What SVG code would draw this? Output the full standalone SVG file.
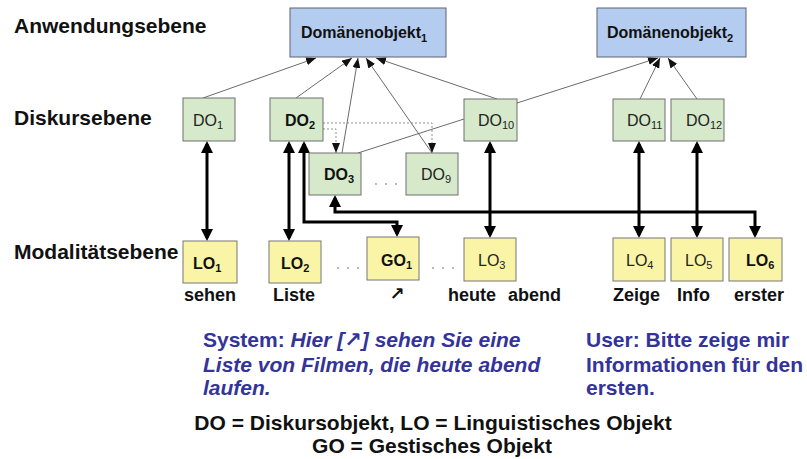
<svg xmlns="http://www.w3.org/2000/svg" width="807" height="459" viewBox="0 0 807 459">
  <style>
    text { font-family: "Liberation Sans", Arial, "DejaVu Sans", sans-serif; fill: #111; }
    .level { font-size: 21px; font-weight: bold; }
    .dom rect { fill: #b4ccef; stroke: #5e6270; stroke-width: 1; }
    .dom text { font-size: 16px; font-weight: bold; }
    .disc rect { fill: #d6e9cb; stroke: #6f6f6f; stroke-width: 1; }
    .mod rect { fill: #faf5a6; stroke: #767676; stroke-width: 1; }
    .node text { font-size: 16px; fill: #222; }
    .node text.b { font-weight: bold; fill: #111; }
    .sub { font-size: 11px; }
    .word { font-size: 18px; font-weight: bold; }
    .thin { fill: none; stroke: #5a5a5a; stroke-width: 0.9; }
    .dash { fill: none; stroke: #8e8e8e; stroke-width: 1; stroke-dasharray: 2 2; }
    .thick { fill: none; stroke: #000; stroke-width: 3; stroke-linejoin: miter; }
    .dots circle { fill: #9a9a9a; }
    .say { font-size: 21px; font-weight: bold; fill: #333399; }
    .say .it { font-style: italic; }
    .legend { font-size: 21px; font-weight: bold; }
  </style>
  <defs>
    <marker id="tip" viewBox="0 0 10 8" refX="10" refY="4" markerWidth="10" markerHeight="8" markerUnits="userSpaceOnUse" orient="auto">
      <path d="M0,0 L10,4 L0,8 z" fill="#111"/>
    </marker>
    <marker id="head" viewBox="0 0 12 12" refX="9" refY="6" markerWidth="12" markerHeight="12" markerUnits="userSpaceOnUse" orient="auto-start-reverse">
      <path d="M0,0 L12,6 L0,12 z" fill="#000"/>
    </marker>
  </defs>

  <rect width="807" height="459" fill="#fff"/>

  <!-- level captions -->
  <text class="level" x="14" y="33">Anwendungsebene</text>
  <text class="level" x="14" y="125">Diskursebene</text>
  <text class="level" x="14" y="259">Modalitätsebene</text>

  <!-- connectors -->
  <g id="connectors">
    <!-- discourse objects to domain objects -->
    <line class="thin" x1="203" y1="98" x2="316" y2="58" marker-end="url(#tip)"/>
    <line class="thin" x1="296" y1="98" x2="352" y2="58" marker-end="url(#tip)"/>
    <line class="thin" x1="342" y1="153" x2="358" y2="58" marker-end="url(#tip)"/>
    <line class="thin" x1="432" y1="153" x2="366" y2="58" marker-end="url(#tip)"/>
    <line class="thin" x1="497" y1="99" x2="376" y2="58" marker-end="url(#tip)"/>
    <line class="thin" x1="517" y1="103" x2="658" y2="58" marker-end="url(#tip)"/>
    <line class="thin" x1="640" y1="99" x2="660" y2="58" marker-end="url(#tip)"/>
    <line class="thin" x1="697" y1="99" x2="668" y2="58" marker-end="url(#tip)"/>
    <line class="thin" x1="358" y1="153" x2="464" y2="119"/>
    <!-- DO2 refined into DO3 and DO9 -->
    <polyline class="dash" points="323,123 432,123 432,153" marker-end="url(#tip)"/>
    <polyline class="dash" points="323,129 336,129 336,153" marker-end="url(#tip)"/>
    <!-- discourse objects to modality objects -->
    <line class="thick" x1="207" y1="144" x2="207" y2="238" marker-start="url(#head)" marker-end="url(#head)"/>
    <line class="thick" x1="289" y1="144" x2="289" y2="238" marker-start="url(#head)" marker-end="url(#head)"/>
    <polyline class="thick" points="304,144 304,222 397,222 397,234" marker-start="url(#head)" marker-end="url(#head)"/>
    <polyline class="thick" points="335,198 335,212 755,212 755,235" marker-start="url(#head)" marker-end="url(#head)"/>
    <line class="thick" x1="490" y1="144" x2="490" y2="235" marker-start="url(#head)" marker-end="url(#head)"/>
    <line class="thick" x1="639" y1="144" x2="639" y2="235" marker-start="url(#head)" marker-end="url(#head)"/>
    <line class="thick" x1="697" y1="144" x2="697" y2="235" marker-start="url(#head)" marker-end="url(#head)"/>
  </g>

  <!-- application level -->
  <g id="dom1" class="dom">
    <rect x="290" y="8" width="156" height="49"/>
    <text x="301" y="38">Domänenobjekt<tspan class="sub" dy="4">1</tspan></text>
  </g>
  <g id="dom2" class="dom">
    <rect x="597" y="8" width="149" height="49"/>
    <text x="607" y="38">Domänenobjekt<tspan class="sub" dy="4">2</tspan></text>
  </g>

  <!-- discourse level -->
  <g id="do1" class="node disc">
    <rect x="183" y="98" width="52" height="43"/>
    <text x="193" y="126">DO<tspan class="sub" dy="3">1</tspan></text>
  </g>
  <g id="do2" class="node disc">
    <rect x="270" y="98" width="53" height="43"/>
    <text class="b" x="285" y="126">DO<tspan class="sub" dy="3">2</tspan></text>
  </g>
  <g id="do3" class="node disc">
    <rect x="309" y="153" width="52" height="42"/>
    <text class="b" x="324" y="180">DO<tspan class="sub" dy="3">3</tspan></text>
  </g>
  <g id="do9" class="node disc">
    <rect x="406" y="153" width="52" height="42"/>
    <text x="421" y="180">DO<tspan class="sub" dy="3">9</tspan></text>
  </g>
  <g id="do10" class="node disc">
    <rect x="464" y="99" width="53" height="42"/>
    <text x="478" y="126">DO<tspan class="sub" dy="3">10</tspan></text>
  </g>
  <g id="do11" class="node disc">
    <rect x="613" y="99" width="52" height="42"/>
    <text x="627" y="126">DO<tspan class="sub" dy="3">11</tspan></text>
  </g>
  <g id="do12" class="node disc">
    <rect x="671" y="99" width="53" height="42"/>
    <text x="686" y="126">DO<tspan class="sub" dy="3">12</tspan></text>
  </g>
  <g class="dots">
    <circle cx="376" cy="184" r="0.9"/><circle cx="386" cy="184" r="0.9"/><circle cx="396" cy="184" r="0.9"/>
  </g>

  <!-- modality level -->
  <g id="lo1" class="node mod">
    <rect x="183" y="241" width="54" height="42"/>
    <text class="b" x="193" y="269">LO<tspan class="sub" dy="3">1</tspan></text>
  </g>
  <g id="lo2" class="node mod">
    <rect x="269" y="241" width="52" height="42"/>
    <text class="b" x="281" y="269">LO<tspan class="sub" dy="3">2</tspan></text>
  </g>
  <g id="go1" class="node mod">
    <rect x="367" y="237" width="52" height="43"/>
    <text class="b" x="381" y="266">GO<tspan class="sub" dy="3">1</tspan></text>
  </g>
  <g id="lo3" class="node mod">
    <rect x="464" y="238" width="52" height="43"/>
    <text x="478" y="266">LO<tspan class="sub" dy="3">3</tspan></text>
  </g>
  <g id="lo4" class="node mod">
    <rect x="613" y="238" width="52" height="43"/>
    <text x="626" y="266">LO<tspan class="sub" dy="3">4</tspan></text>
  </g>
  <g id="lo5" class="node mod">
    <rect x="671" y="238" width="52" height="43"/>
    <text x="685" y="266">LO<tspan class="sub" dy="3">5</tspan></text>
  </g>
  <g id="lo6" class="node mod">
    <rect x="729" y="238" width="53" height="43"/>
    <text class="b" x="746" y="266">LO<tspan class="sub" dy="3">6</tspan></text>
  </g>
  <g class="dots">
    <circle cx="338" cy="268" r="0.9"/><circle cx="348" cy="268" r="0.9"/><circle cx="358" cy="268" r="0.9"/>
    <circle cx="433" cy="268" r="0.9"/><circle cx="443" cy="268" r="0.9"/><circle cx="453" cy="268" r="0.9"/>
  </g>

  <!-- surface words -->
  <text class="word" x="184" y="301">sehen</text>
  <text class="word" x="273" y="301">Liste</text>
  <text class="word" x="397" y="300" text-anchor="middle" font-family="DejaVu Sans, sans-serif" font-size="14">↗</text>
  <text class="word" x="448" y="301">heute</text>
  <text class="word" x="508" y="301">abend</text>
  <text class="word" x="613" y="301">Zeige</text>
  <text class="word" x="677" y="301">Info</text>
  <text class="word" x="734" y="301">erster</text>

  <!-- dialogue -->
  <text class="say" x="203" y="347">System: <tspan class="it">Hier [↗] sehen Sie eine</tspan></text>
  <text class="say" x="203" y="372"><tspan class="it">Liste von Filmen, die heute abend</tspan></text>
  <text class="say" x="203" y="395"><tspan class="it">laufen.</tspan></text>
  <text class="say" x="586" y="347">User: Bitte zeige mir</text>
  <text class="say" x="586" y="372">Informationen für den</text>
  <text class="say" x="586" y="395">ersten.</text>

  <!-- legend -->
  <text class="legend" x="433" y="430" text-anchor="middle">DO = Diskursobjekt, LO = Linguistisches Objekt</text>
  <text class="legend" x="432" y="453" text-anchor="middle">GO = Gestisches Objekt</text>
</svg>
